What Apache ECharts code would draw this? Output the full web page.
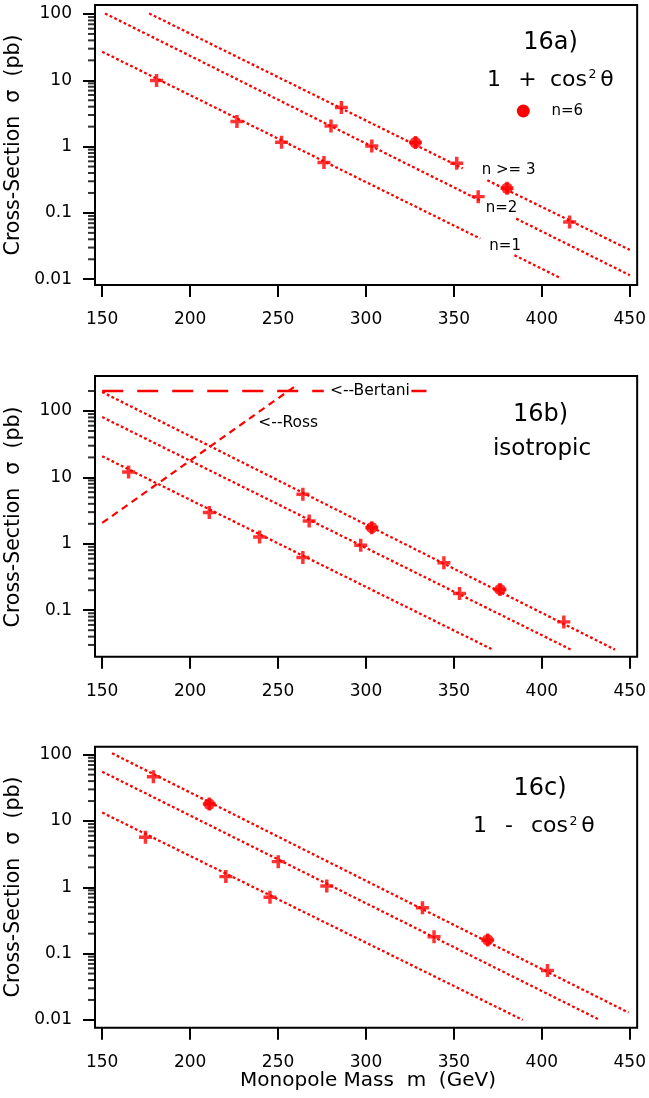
<!DOCTYPE html>
<html>
<head>
<meta charset="utf-8">
<script src="https://cdn.jsdelivr.net/npm/echarts@6/dist/echarts.min.js"></script>
<style>
html,body{margin:0;padding:0;background:#fff;}
#chart{width:649px;height:1098px;}
</style>
</head>
<body>
<div id="chart"></div>
<script>
// ---------- tick values ----------
const xTicks = [150, 200, 250, 300, 350, 400, 450];
const yMajorAC = [0.01, 0.1, 1, 10, 100];
const yMajorB = [0.1, 1, 10, 100];
const yMinorAC = [0.02,0.03,0.04,0.05,0.06,0.07,0.08,0.09,0.2,0.3,0.4,0.5,0.6,0.7,0.8,0.9,2,3,4,5,6,7,8,9,20,30,40,50,60,70,80,90];
const yMinorB = [0.03,0.04,0.05,0.06,0.07,0.08,0.09,0.2,0.3,0.4,0.5,0.6,0.7,0.8,0.9,2,3,4,5,6,7,8,9,20,30,40,50,60,70,80,90,200];

// ---------- panel a: 1 + cos^2 theta ----------
const aN1Pts = [[180.9, 9.9], [226.6, 2.4], [252, 1.16], [276.1, 0.574]];
const aN2Pts = [[280.1, 2.05], [303.3, 1.02], [363.8, 0.176]];
const aN3Pts = [[286, 3.9], [351.6, 0.56], [415.8, 0.073]];
const aN6Pts = [[328.1, 1.15], [380.2, 0.235]];
const aN1LineL = [[150, 27], [365, 0.041]];
const aN1LineR = [[384.4, 0.023], [411, 0.0103]];
const aN2LineL = [[151.6, 102], [366, 0.149]];
const aN2LineR = [[385.4, 0.082], [450, 0.0115]];
const aN3LineL = [[176.7, 102], [355, 0.47]];
const aN3LineR = [[369, 0.31], [450, 0.0277]];

// ---------- panel b: isotropic ----------
const bN1Pts = [[165, 12.1], [210.9, 2.95], [239.5, 1.27], [264.1, 0.62]];
const bN2Pts = [[267.7, 2.21], [297, 0.95], [353.2, 0.178]];
const bN3Pts = [[264.1, 5.57], [344.3, 0.52], [412.5, 0.0667]];
const bN6Pts = [[303.3, 1.75], [376.2, 0.205]];
const bN1Line = [[150, 20.8], [372, 0.0255]];
const bN2Line = [[150, 81], [416.5, 0.0255]];
const bN3Line = [[150, 193], [441.6, 0.0255]];
const bBertaniL = [[150, 200], [276, 200]];
const bBertaniR = [[325.8, 200], [334.4, 200]];
const bRoss = [[150, 2.06], [261, 250]];

// ---------- panel c: 1 - cos^2 theta ----------
const cN1Pts = [[174.6, 5.68], [220.3, 1.45], [245.4, 0.706]];
const cN2Pts = [[250.1, 2.44], [277.7, 1.05], [338.7, 0.18]];
const cN3Pts = [[179.1, 46.6], [332.1, 0.493], [403.2, 0.0555]];
const cN6Pts = [[210.9, 18.0], [369.2, 0.161]];
const cN1Line = [[150, 13.4], [389.1, 0.01]];
const cN2Line = [[150, 55.5], [432.9, 0.01]];
const cN3Line = [[155.6, 105], [449.3, 0.0129]];

// ---------- styling ----------
const FONT = 'DejaVu Sans';
const RED = '#ff0000';
const CROSS = 'path://M4.4,0H7.6V4.4H12V7.6H7.6V12H4.4V7.6H0V4.4H4.4Z';
const XMIN = 145.9, XMAX = 454.2;

const panels = [
  {top: 5, height: 280, ymin: 0.00818, ymax: 136.7, major: yMajorAC, minor: yMinorAC},
  {top: 376, height: 280.7, ymin: 0.01995, ymax: 336.5, major: yMajorB, minor: yMinorB},
  {top: 746.7, height: 281, ymin: 0.00763, ymax: 132.1, major: yMajorAC, minor: yMinorAC}
];

const fmt = v => String(parseFloat(Number(v).toPrecision(3)));

const grid = [], xAxis = [], yAxis = [];
panels.forEach((p, i) => {
  grid.push({left: 95, right: 8.3, top: p.top, height: p.height, show: true,
    borderColor: '#000', borderWidth: 2, backgroundColor: 'transparent', containLabel: false});
  xAxis.push({type: 'value', gridIndex: i, min: XMIN, max: XMAX,
    axisLine: {show: false}, splitLine: {show: false},
    axisTick: {show: true, customValues: xTicks, length: 12, lineStyle: {color: '#000', width: 2}},
    axisLabel: {show: true, customValues: xTicks, margin: 26, fontSize: 17, fontFamily: FONT, color: '#000'}});
  yAxis.push({type: 'log', logBase: 10, gridIndex: i, min: p.ymin, max: p.ymax,
    axisLine: {show: false}, splitLine: {show: false},
    axisTick: {show: true, customValues: p.major, length: 12, lineStyle: {color: '#000', width: 2}},
    axisLabel: {show: true, customValues: p.major, margin: 23, fontSize: 17, fontFamily: FONT, color: '#000', formatter: fmt}});
});

function minorTicks(vals, gi) {
  return {type: 'scatter', xAxisIndex: gi, yAxisIndex: gi, silent: true, animation: false, clip: false,
    data: vals.map(v => [XMIN, v]), symbol: 'rect', symbolSize: [7, 2], symbolOffset: [-3.5, 0],
    itemStyle: {color: '#000'}, z: 5};
}
function dotted(data, gi) {
  return {type: 'line', xAxisIndex: gi, yAxisIndex: gi, data: data, showSymbol: false, symbol: 'none',
    silent: true, animation: false,
    lineStyle: {color: RED, width: 2.3, type: [2.8, 2.4]}};
}
function dashed(data, gi, dash, w) {
  return {type: 'line', xAxisIndex: gi, yAxisIndex: gi, data: data, showSymbol: false, symbol: 'none',
    silent: true, animation: false,
    lineStyle: {color: RED, width: w, type: dash}};
}
function crosses(data, gi) {
  return {type: 'scatter', xAxisIndex: gi, yAxisIndex: gi, data: data, symbol: CROSS, symbolSize: 13,
    itemStyle: {color: RED}, silent: true, animation: false};
}
function dots(data, gi) {
  return {type: 'scatter', xAxisIndex: gi, yAxisIndex: gi, data: data, symbol: 'circle', symbolSize: 11.5,
    itemStyle: {color: RED}, silent: true, animation: false, z: 3};
}

const series = [
  minorTicks(panels[0].minor, 0), minorTicks(panels[1].minor, 1), minorTicks(panels[2].minor, 2),
  dotted(aN1LineL, 0), dotted(aN1LineR, 0), dotted(aN2LineL, 0), dotted(aN2LineR, 0),
  dotted(aN3LineL, 0), dotted(aN3LineR, 0),
  crosses(aN1Pts.concat(aN2Pts, aN3Pts, aN6Pts), 0), dots(aN6Pts, 0),
  dotted(bN1Line, 1), dotted(bN2Line, 1), dotted(bN3Line, 1),
  dashed(bBertaniL, 1, [21, 14], 2.5), dashed(bBertaniR, 1, [21, 14], 2.5), dashed(bRoss, 1, [7, 5], 2.2),
  crosses(bN1Pts.concat(bN2Pts, bN3Pts, bN6Pts), 1), dots(bN6Pts, 1),
  dotted(cN1Line, 2), dotted(cN2Line, 2), dotted(cN3Line, 2),
  crosses(cN1Pts.concat(cN2Pts, cN3Pts, cN6Pts), 2), dots(cN6Pts, 2)
];

function txt(x, y, s, size, align, extra) {
  return Object.assign({type: 'text', x: x, y: y, silent: true,
    style: {text: s, fontSize: size, fontFamily: FONT, fill: '#000', align: align || 'left', verticalAlign: 'middle'}}, extra || {});
}
const ytitle = 'Cross-Section  \u03c3  (pb)';
const graphic = [
  // y titles
  txt(14, 145, ytitle, 20.5, 'center', {rotation: Math.PI / 2}),
  txt(14, 517, ytitle, 20.5, 'center', {rotation: Math.PI / 2}),
  txt(14, 887, ytitle, 20.5, 'center', {rotation: Math.PI / 2}),
  // x title
  txt(368, 1081, 'Monopole Mass  m  (GeV)', 20, 'center'),
  // panel a
  txt(550.5, 43, '16a)', 24, 'center'),
  txt(494, 80, '1', 22, 'center'),
  txt(527.5, 80, '+', 22, 'center'),
  txt(550, 80, 'cos', 22, 'left'),
  txt(592.5, 75, '2', 12.5, 'center'),
  txt(607, 80, '\u03b8', 22, 'center'),
  {type: 'circle', shape: {cx: 523.3, cy: 111, r: 6.5}, style: {fill: RED}, silent: true},
  txt(551.5, 111, 'n=6', 15, 'left'),
  txt(481.7, 170, 'n >= 3', 15, 'left'),
  txt(485.7, 208.3, 'n=2', 15, 'left'),
  txt(489.3, 245.7, 'n=1', 15, 'left'),
  // panel b
  txt(540.5, 415, '16b)', 24, 'center'),
  txt(542, 449, 'isotropic', 23, 'center'),
  txt(330, 390.7, '<--Bertani', 15.5, 'left'),
  txt(258.3, 422.7, '<--Ross', 15.5, 'left'),
  // panel c
  txt(540, 789, '16c)', 24, 'center'),
  txt(480, 826.7, '1', 22, 'center'),
  txt(509, 826.7, '-', 22, 'center'),
  txt(531, 826.7, 'cos', 22, 'left'),
  txt(573.5, 821.7, '2', 12.5, 'center'),
  txt(588, 826.7, '\u03b8', 22, 'center')
];

const chart = echarts.init(document.getElementById('chart'), null, {renderer: 'canvas'});
chart.setOption({animation: false, backgroundColor: '#fff', grid, xAxis, yAxis, series, graphic});
</script>
</body>
</html>
